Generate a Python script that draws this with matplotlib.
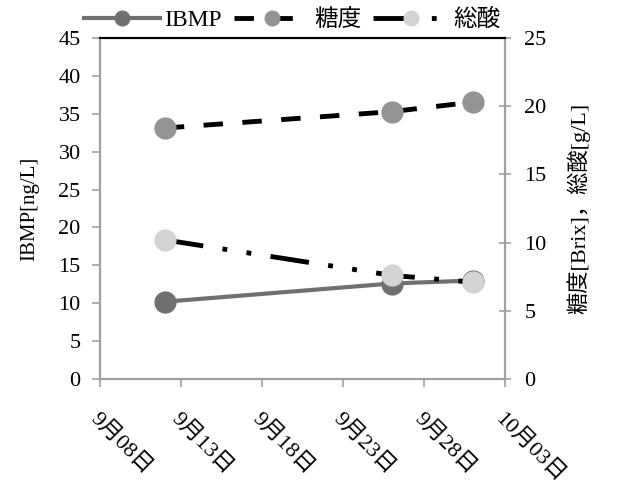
import datetime as dt
import matplotlib
matplotlib.use("Agg")
import matplotlib.pyplot as plt
import matplotlib.dates as mdates
from matplotlib.ticker import FuncFormatter, MultipleLocator

FONT = ["Liberation Serif", "Noto Sans CJK JP"]
plt.rcParams["font.family"] = FONT

# データ
dates = [dt.date(2013, 9, 12), dt.date(2013, 9, 26), dt.date(2013, 10, 1)]
ibmp = [10.2, 12.6, 13.0]
sugar = [18.4, 19.6, 20.3]
acid = [10.2, 7.6, 7.1]
labels = ["IBMP", "糖度", "総酸"]

fig = plt.figure(figsize=(6.22, 4.84), dpi=100)
ax = fig.add_axes([0.1608, 0.2169, 0.6511, 0.7046])
ax2 = ax.twinx()

h1, = ax.plot(dates, ibmp, color="#707070", lw=3, marker="o", ms=15,
              mfc="#707070", mec="#707070", zorder=3, label=labels[0])
h2, = ax2.plot(dates, sugar, color="black", lw=3.5, dashes=(4, 4),
               marker="o", ms=15, mfc="#939393", mec="#939393", label=labels[1])
h3, = ax2.plot(dates, acid, color="black", lw=3.5, dashes=(8, 4, 1, 4, 1, 4),
               marker="o", ms=15, mfc="#d3d3d3", mec="#d3d3d3", label=labels[2])

ax.set_ylim(0, 45)
ax.yaxis.set_major_locator(MultipleLocator(5))
ax2.set_ylim(0, 25)
ax2.yaxis.set_major_locator(MultipleLocator(5))

ax.set_xlim(dt.date(2013, 9, 8), dt.date(2013, 10, 3))
ax.xaxis.set_major_locator(mdates.DayLocator(bymonthday=[3, 8, 13, 18, 23, 28]))
ax.xaxis.set_major_formatter(FuncFormatter(
    lambda v, p: "{}月{:02d}日".format(mdates.num2date(v).month, mdates.num2date(v).day)))

for a in (ax, ax2):
    for s in a.spines.values():
        s.set_color("#a0a0a0")
        s.set_linewidth(1.5)
    a.spines["top"].set_color("black")
    a.tick_params(colors="#a0a0a0", labelcolor="black", labelsize=16, width=1.2, length=6)

ax.tick_params(axis="y", pad=8)
ax2.tick_params(axis="y", direction="inout", length=8, pad=10)
for t in ax.get_xticklabels():
    t.set_rotation(-45)
    t.set_ha("left")
    t.set_va("top")
    t.set_rotation_mode("anchor")
    t.set_fontsize(16)
ax.tick_params(axis="x", pad=16)

ax.set_ylabel("IBMP[ng/L]", fontsize=15, labelpad=14)
ax2.set_ylabel("糖度[Brix]，総酸[g/L]", fontsize=16, labelpad=14)

fig.legend(handles=[h1, h2, h3], labels=labels, loc="upper center",
           bbox_to_anchor=(0.47, 1.025), ncol=3, frameon=False, fontsize=17,
           handlelength=3.2, columnspacing=0.5, handletextpad=0.2, markerscale=0.7)

fig.savefig("out.png", dpi=100)
